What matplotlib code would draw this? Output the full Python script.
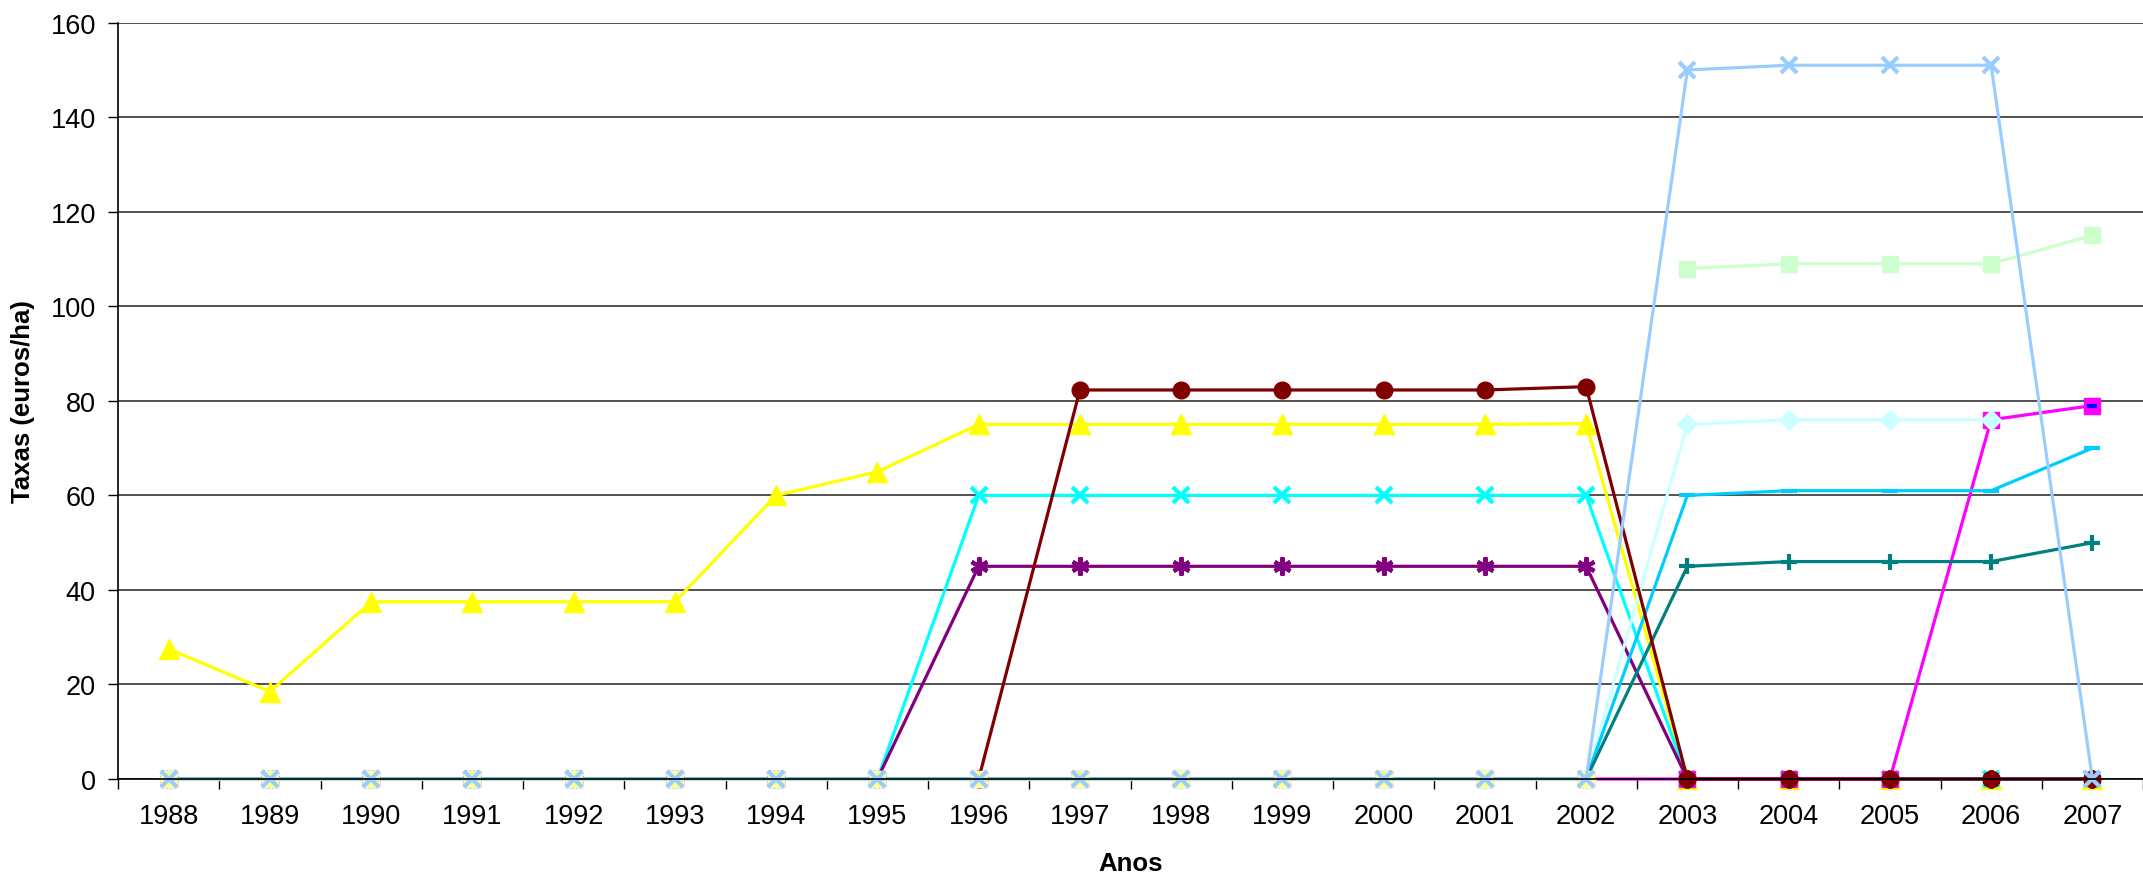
import numpy as np
import matplotlib
matplotlib.use("Agg")
import matplotlib.pyplot as plt

plt.rcParams['font.family'] = ['Liberation Sans', 'DejaVu Sans']

nan = np.nan

# anos (categorias do eixo x)
anos = [1988, 1989, 1990, 1991, 1992, 1993, 1994, 1995, 1996, 1997,
        1998, 1999, 2000, 2001, 2002, 2003, 2004, 2005, 2006, 2007]

# taxas (euros/ha) por serie
amarelo = [27.5, 18.5, 37.5, 37.5, 37.5, 37.5, 60, 65, 75, 75,
           75, 75, 75, 75, 75.2, 0, 0, 0, 0, 0]
ciano = [0, 0, 0, 0, 0, 0, 0, 0, 60, 60,
         60, 60, 60, 60, 60, 0, 0, 0, 0, 0]
roxo = [0, 0, 0, 0, 0, 0, 0, 0, 45, 45,
        45, 45, 45, 45, 45, 0, 0, 0, 0, 0]
magenta = [0, 0, 0, 0, 0, 0, 0, 0, 0, 0,
           0, 0, 0, 0, 0, 0, 0, 0, 76, 79]
verde_claro = [nan, nan, nan, nan, nan, nan, nan, nan, nan, nan,
               nan, nan, nan, nan, nan, 108, 109, 109, 109, 115]
ciano_claro = [0, 0, 0, 0, 0, 0, 0, 0, 0, 0,
               0, 0, 0, 0, 0, 75, 76, 76, 76, nan]
azul_ceu = [0, 0, 0, 0, 0, 0, 0, 0, 0, 0,
            0, 0, 0, 0, 0, 60, 61, 61, 61, 70]
verde_azulado = [0, 0, 0, 0, 0, 0, 0, 0, 0, 0,
                 0, 0, 0, 0, 0, 45, 46, 46, 46, 50]
azul = [nan, nan, nan, nan, nan, nan, nan, nan, nan, nan,
        nan, nan, nan, nan, nan, nan, nan, nan, nan, 79]
vermelho_escuro = [nan, nan, nan, nan, nan, nan, nan, nan, 0, 82.3,
                   82.3, 82.3, 82.3, 82.3, 83, 0, 0, 0, 0, 0]
amarelo_claro = [0, 0, 0, 0, 0, 0, 0, 0, 0, 0,
                 0, 0, 0, 0, 0, nan, nan, nan, nan, nan]
azul_claro = [0, 0, 0, 0, 0, 0, 0, 0, 0, 0,
              0, 0, 0, 0, 0, 150, 151, 151, 151, 0]

# (valores, cor, marcador, tamanho) na ordem de desenho
series = [
    (amarelo, '#FFFF00', '^', 14),
    (ciano, '#00FFFF', 'x', 12),
    (roxo, '#800080', (6, 2, 0), 13),
    (magenta, '#FF00FF', 's', 12),
    (verde_claro, '#CCFFCC', 's', 11),
    (ciano_claro, '#CCFFFF', 'D', 10),
    (azul_ceu, '#00CCFF', '_', 12),
    (verde_azulado, '#008080', '+', 12),
    (azul, '#0000FF', '_', 7),
    (vermelho_escuro, '#800000', 'o', 12),
    (amarelo_claro, '#FFFF99', 's', 11),
    (azul_claro, '#99CCFF', 'x', 12),
]

fig = plt.figure(figsize=(21.43, 8.78), dpi=100)
ax = fig.add_axes([0.0551, 0.1116, 0.9449, 0.8614])

x = np.arange(len(anos))
for valores, cor, marcador, tam in series:
    mew = 3 if marcador in ('x', '+', '_') or isinstance(marcador, tuple) else 1
    ax.plot(x, valores, color=cor, lw=2.3, marker=marcador, markersize=tam,
            markeredgewidth=mew, markerfacecolor=cor, markeredgecolor=cor,
            clip_on=False)

ax.set_xlim(-0.5, len(anos) - 0.5)
ax.set_ylim(0, 160)
ax.set_yticks(np.arange(0, 161, 20))
ax.set_xticks(x)
ax.set_xticklabels([str(a) for a in anos])
ax.set_xticks(np.arange(-0.5, len(anos), 1), minor=True)

ax.grid(axis='y', color='#333333', lw=1.2)
ax.set_axisbelow(True)
for s in ('top', 'right'):
    ax.spines[s].set_visible(False)
ax.spines['left'].set_color('black')
ax.spines['bottom'].set_color('black')
ax.spines['left'].set_linewidth(1.2)
ax.spines['bottom'].set_linewidth(1.2)

ax.tick_params(axis='y', labelsize=19.5, length=7, width=1, pad=9, direction='out')
ax.tick_params(axis='x', which='major', labelsize=19.5, length=0, pad=17)
ax.tick_params(axis='x', which='minor', length=7, width=1, direction='out')

ax.set_ylabel('Taxas (euros/ha)', fontsize=18.5, fontweight='bold', labelpad=11)
ax.set_xlabel('Anos', fontsize=18.5, fontweight='bold', labelpad=16)

fig.savefig('out.png', dpi=100)
